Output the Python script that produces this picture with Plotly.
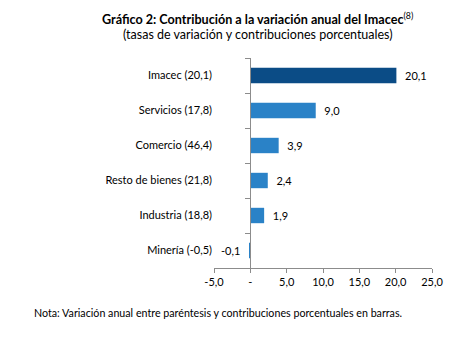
import plotly.graph_objects as go

categories = ["Imacec (20,1)", "Servicios (17,8)", "Comercio (46,4)",
              "Resto de bienes (21,8)", "Industria (18,8)", "Minería (-0,5)"]
values = [20.1, 9.0, 3.9, 2.4, 1.9, -0.1]
bar_colors = ["#0B4C86", "#2A82C7", "#2A82C7", "#2A82C7", "#2A82C7", "#2A82C7"]
x_tickvals = [-5, 0, 5, 10, 15, 20, 25]
x_ticktext = ["-5,0", "-", "5,0", "10,0", "15,0", "20,0", "25,0"]

FONT = "Lato"
NB = "\u00a0"
labels = []
for v in values:
    s = f"{v:.1f}".replace(".", ",")
    labels.append(NB * 2 + s if v >= 0 else s + NB * 2)

fig = go.Figure()
fig.add_trace(go.Bar(
    x=values, y=categories, orientation="h",
    marker=dict(color=bar_colors, line=dict(width=0)),
    text=labels, textposition="outside", cliponaxis=False,
    constraintext="none",
    textfont=dict(family=FONT, size=11, color="#000000"),
    hoverinfo="skip", width=0.44,
))
# invisible trace carrying the category axis drawn at x = 0
fig.add_trace(go.Scatter(
    x=[0] * len(categories), y=categories, yaxis="y2", mode="markers",
    marker=dict(opacity=0), hoverinfo="skip", showlegend=False,
))

axis_grey = "#8C8C8C"
fig.update_layout(
    width=476, height=340,
    margin=dict(l=214, r=44, t=58, b=72),
    paper_bgcolor="white", plot_bgcolor="white",
    showlegend=False,
    font=dict(family=FONT, size=11, color="#000000"),
    xaxis=dict(
        range=[-5, 25], tickvals=x_tickvals, ticktext=x_ticktext,
        showgrid=False, zeroline=False, showline=True, linecolor=axis_grey,
        linewidth=1, ticks="outside", ticklen=4, tickcolor=axis_grey,
        tickfont=dict(family=FONT, size=11, color="#000000"),
    ),
    yaxis=dict(
        categoryorder="array", categoryarray=categories, autorange="reversed",
        showgrid=False, zeroline=False, showline=False, ticks="",
        ticklabelstandoff=1,
        tickfont=dict(family=FONT, size=11, color="#000000"),
    ),
    yaxis2=dict(
        overlaying="y", anchor="free", position=5 / 30, matches="y",
        categoryorder="array", categoryarray=categories,
        showgrid=False, zeroline=False, showline=True, linecolor=axis_grey,
        linewidth=1, ticks="outside", ticklen=5, tickcolor=axis_grey,
        tickson="boundaries", showticklabels=False,
    ),
    annotations=[
        dict(
            text="<b>Gráfico 2: Contribución a la variación anual del Imacec</b><sup>(8)</sup>",
            xref="paper", yref="paper", x=0.2, y=1.19,
            xanchor="center", yanchor="middle", showarrow=False,
            font=dict(family=FONT, size=12.6, color="#000000"),
        ),
        dict(
            text="(tasas de variación y contribuciones porcentuales)",
            xref="paper", yref="paper", x=0.2, y=1.11,
            xanchor="center", yanchor="middle", showarrow=False,
            font=dict(family=FONT, size=12.5, color="#000000"),
        ),
        dict(
            text="Nota: Variación anual entre paréntesis y contribuciones porcentuales en barras.",
            xref="paper", yref="paper", x=-0.835, y=-0.214,
            xanchor="left", yanchor="middle", showarrow=False,
            font=dict(family=FONT, size=10.7, color="#000000"),
        ),
    ],
)

fig.write_html("out.html")
